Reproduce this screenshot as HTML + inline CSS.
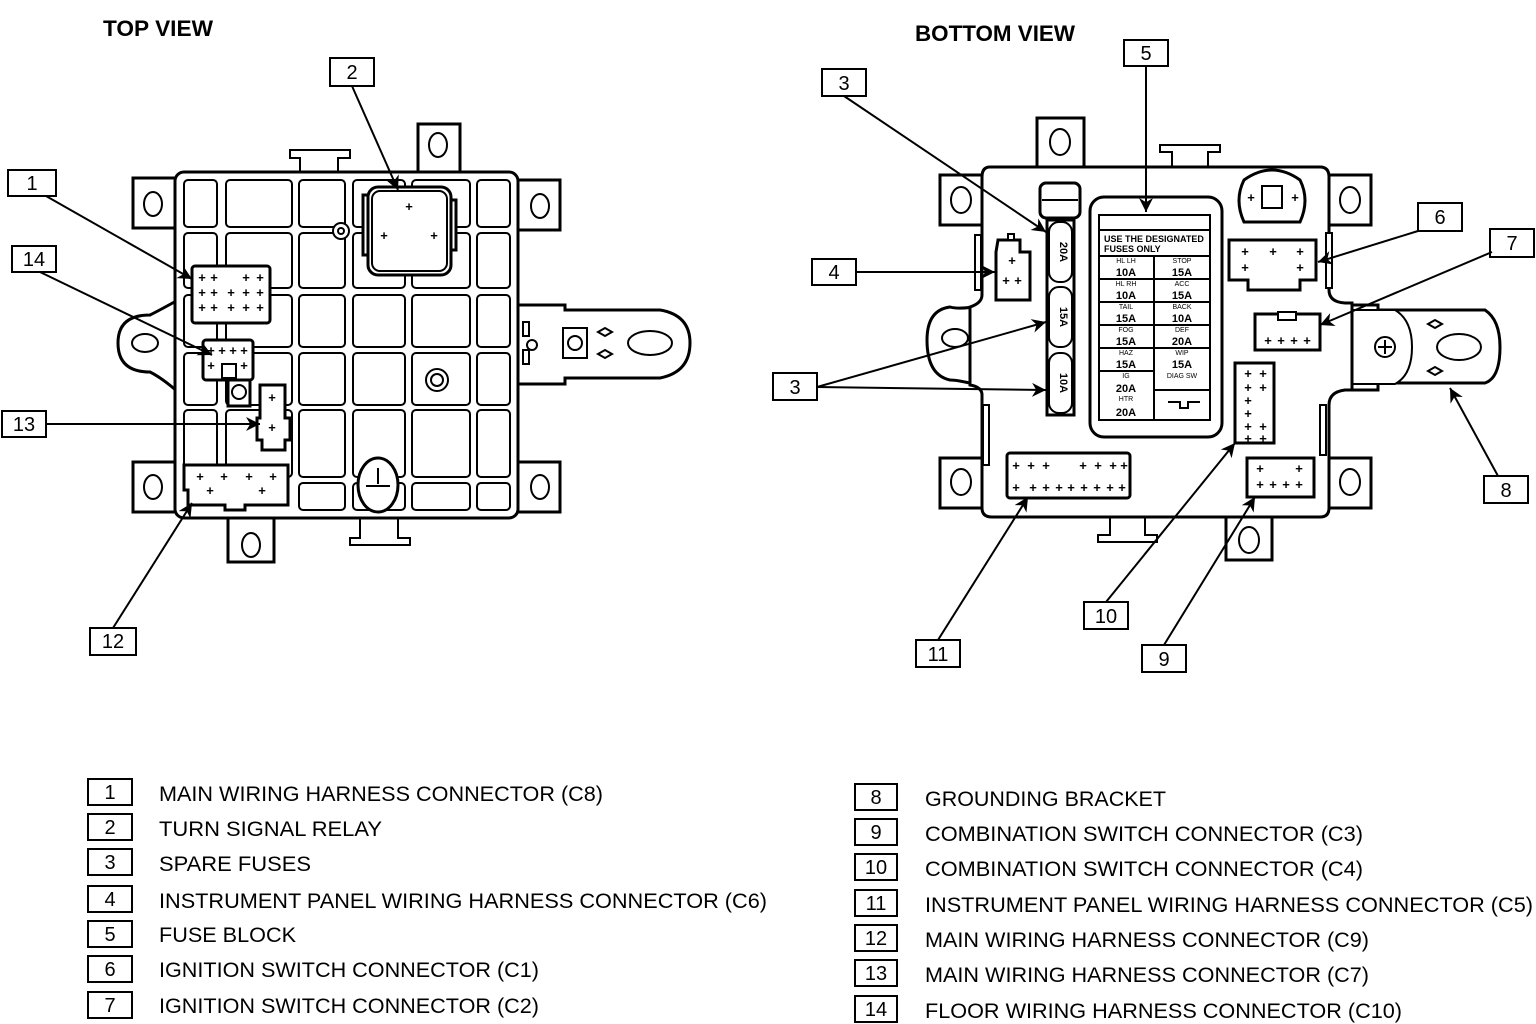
<!DOCTYPE html>
<html><head><meta charset="utf-8"><style>
html,body{margin:0;padding:0;background:#fff;}
svg{display:block;}
text{font-family:"Liberation Sans",sans-serif;fill:#000;}
.l{stroke:#000;stroke-width:3;fill:#fff;}
.t{stroke:#000;stroke-width:2;fill:#fff;}
.n{stroke:#000;stroke-width:2;fill:none;}
.c{stroke:#000;stroke-width:2;fill:#fff;}
.ld{stroke:#000;stroke-width:2;fill:none;}
.p{font-size:13px;font-weight:bold;text-anchor:middle;}
.bx{stroke:#000;stroke-width:2;fill:#fff;}
.bn{font-size:20px;text-anchor:middle;}
.lg{font-size:21px;}
</style></head><body>
<svg width="1536" height="1024" viewBox="0 0 1536 1024" xmlns="http://www.w3.org/2000/svg">
<defs>
<marker id="a" viewBox="0 0 10 10" refX="10" refY="5" markerWidth="9" markerHeight="7" markerUnits="userSpaceOnUse" orient="auto"><path d="M0,0L10,5L0,10z" fill="#000"/></marker>
<marker id="A" viewBox="0 0 10 10" refX="10" refY="5" markerWidth="26" markerHeight="14" markerUnits="userSpaceOnUse" orient="auto"><path d="M0,0L10,5L0,10L3,5z" fill="#000"/></marker>
</defs>

<!-- titles -->
<text x="103" y="36" font-size="22" font-weight="bold" textLength="110" lengthAdjust="spacingAndGlyphs">TOP VIEW</text>
<text x="915" y="41" font-size="22" font-weight="bold" textLength="160" lengthAdjust="spacingAndGlyphs">BOTTOM VIEW</text>

<!-- ================= TOP VIEW ================= -->
<g>
<!-- ears -->
<rect class="l" x="133" y="178" width="44" height="50"/><ellipse class="t" cx="153" cy="204" rx="9" ry="12"/>
<rect class="l" x="516" y="180" width="44" height="50"/><ellipse class="t" cx="540" cy="206" rx="9" ry="12"/>
<rect class="l" x="133" y="462" width="44" height="50"/><ellipse class="t" cx="153" cy="487" rx="9" ry="12"/>
<rect class="l" x="516" y="462" width="44" height="50"/><ellipse class="t" cx="540" cy="487" rx="9" ry="12"/>
<rect class="l" x="418" y="124" width="42" height="50"/><ellipse class="t" cx="438" cy="145" rx="9" ry="12"/>
<rect class="l" x="228" y="516" width="46" height="46"/><ellipse class="t" cx="251" cy="545" rx="9" ry="12"/>
<!-- clips -->
<path class="t" d="M300,172 V158 H290 V150 H350 V158 H338 V172"/>
<path class="t" d="M360,518 V538 H350 V545 H410 V538 H398 V518"/>
<!-- right bracket -->
<path class="l" d="M515,305 H565 V310 H660 Q690,315 690,343 Q690,372 660,378 H565 V384 H515 Z"/>
<rect class="t" x="563" y="328" width="24" height="30"/><circle class="t" cx="575" cy="343" r="7"/>
<ellipse class="t" cx="650" cy="343" rx="22" ry="12"/>
<path class="n" d="M598,332 l7,-4 l7,4 l-7,4z M598,354 l7,-4 l7,4 l-7,4z"/>
<rect class="t" x="523" y="322" width="6" height="14"/><rect class="t" x="523" y="350" width="6" height="14"/>
<circle class="t" cx="532" cy="345" r="5"/>
<!-- left lobe -->
<path class="l" d="M178,300 Q160,310 150,315 Q118,315 118,343 Q118,372 150,372 Q162,378 178,392 Z"/>
<ellipse class="t" cx="145" cy="343" rx="13" ry="9"/>
<!-- body -->
<rect class="l" x="175" y="172" width="343" height="346" rx="9"/>
<!-- grid cells -->
<g class="c" fill="#fff">
<rect class="c" x="184" y="180" width="33" height="47" rx="4"/><rect class="c" x="226" y="180" width="66" height="47" rx="4"/><rect class="c" x="299" y="180" width="46" height="47" rx="4"/><rect class="c" x="353" y="180" width="52" height="47" rx="4"/><rect class="c" x="412" y="180" width="58" height="47" rx="4"/><rect class="c" x="477" y="180" width="33" height="47" rx="4"/>
<rect class="c" x="184" y="233" width="33" height="55" rx="4"/><rect class="c" x="226" y="233" width="66" height="55" rx="4"/><rect class="c" x="299" y="233" width="46" height="55" rx="4"/><rect class="c" x="353" y="233" width="52" height="55" rx="4"/><rect class="c" x="412" y="233" width="58" height="55" rx="4"/><rect class="c" x="477" y="233" width="33" height="55" rx="4"/>
<rect class="c" x="184" y="295" width="33" height="52" rx="4"/><rect class="c" x="226" y="295" width="66" height="52" rx="4"/><rect class="c" x="299" y="295" width="46" height="52" rx="4"/><rect class="c" x="353" y="295" width="52" height="52" rx="4"/><rect class="c" x="412" y="295" width="58" height="52" rx="4"/><rect class="c" x="477" y="295" width="33" height="52" rx="4"/>
<rect class="c" x="184" y="353" width="33" height="52" rx="4"/><rect class="c" x="226" y="353" width="66" height="52" rx="4"/><rect class="c" x="299" y="353" width="46" height="52" rx="4"/><rect class="c" x="353" y="353" width="52" height="52" rx="4"/><rect class="c" x="412" y="353" width="58" height="52" rx="4"/><rect class="c" x="477" y="353" width="33" height="52" rx="4"/>
<rect class="c" x="184" y="410" width="33" height="67" rx="4"/><rect class="c" x="226" y="410" width="66" height="67" rx="4"/><rect class="c" x="299" y="410" width="46" height="67" rx="4"/><rect class="c" x="353" y="410" width="52" height="67" rx="4"/><rect class="c" x="412" y="410" width="58" height="67" rx="4"/><rect class="c" x="477" y="410" width="33" height="67" rx="4"/>
<rect class="c" x="299" y="483" width="46" height="27" rx="4"/><rect class="c" x="353" y="483" width="52" height="27" rx="4"/><rect class="c" x="412" y="483" width="58" height="27" rx="4"/><rect class="c" x="477" y="483" width="33" height="27" rx="4"/>
</g>
<!-- relay -->
<rect class="l" x="363" y="195" width="8" height="60"/><rect class="l" x="448" y="200" width="8" height="50"/>
<rect class="l" x="368" y="187" width="83" height="88" rx="10"/>
<rect class="n" x="372" y="191" width="75" height="80" rx="8"/>
<text class="p" x="409" y="211">+</text><text class="p" x="384" y="240">+</text><text class="p" x="434" y="240">+</text>
<circle class="t" cx="341" cy="231" r="8"/><circle class="n" cx="341" cy="231" r="3"/>
<!-- connector 1 -->
<rect class="l" x="192" y="266" width="78" height="57" rx="3"/>
<text class="p" x="202" y="282">+</text><text class="p" x="214" y="282">+</text><text class="p" x="246" y="282">+</text><text class="p" x="260" y="282">+</text>
<text class="p" x="202" y="297">+</text><text class="p" x="214" y="297">+</text><text class="p" x="231" y="297">+</text><text class="p" x="246" y="297">+</text><text class="p" x="260" y="297">+</text>
<text class="p" x="202" y="312">+</text><text class="p" x="214" y="312">+</text><text class="p" x="231" y="312">+</text><text class="p" x="246" y="312">+</text><text class="p" x="260" y="312">+</text>
<!-- connector 14 -->
<rect class="l" x="203" y="340" width="50" height="40" rx="3"/>
<text class="p" x="211" y="355">+</text><text class="p" x="222" y="355">+</text><text class="p" x="233" y="355">+</text><text class="p" x="244" y="355">+</text>
<text class="p" x="211" y="370">+</text><text class="p" x="244" y="370">+</text>
<rect class="t" x="222" y="364" width="14" height="14"/>
<rect class="l" x="228" y="380" width="22" height="26"/><circle class="t" cx="239" cy="392" r="7"/>
<!-- connector 13 -->
<path class="l" d="M260,385 H285 V418 H290 V440 H285 V450 H262 V440 H257 V418 H260 Z"/>
<text class="p" x="272" y="402">+</text><text class="p" x="272" y="432">+</text>
<!-- center circle -->
<circle class="t" cx="437" cy="380" r="11"/><circle class="n" cx="437" cy="380" r="6"/>
<!-- connector 12 -->
<path class="l" d="M184,465 H288 V505 H245 V510 H225 V505 H188 V490 H184 Z"/>
<text class="p" x="200" y="481">+</text><text class="p" x="224" y="481">+</text><text class="p" x="249" y="481">+</text><text class="p" x="273" y="481">+</text>
<text class="p" x="210" y="495">+</text><text class="p" x="262" y="495">+</text>
<!-- bottom round -->
<ellipse class="l" cx="378" cy="485" rx="20" ry="27"/>
<path class="n" d="M378,468 V484 M366,486 H390"/>
</g>

<!-- top view labels -->
<rect class="bx" x="8" y="170" width="48" height="26"/><text class="bn" x="32" y="190">1</text>
<rect class="bx" x="12" y="246" width="44" height="26"/><text class="bn" x="34" y="266">14</text>
<rect class="bx" x="2" y="411" width="44" height="26"/><text class="bn" x="24" y="431">13</text>
<rect class="bx" x="90" y="628" width="46" height="27"/><text class="bn" x="113" y="648">12</text>
<rect class="bx" x="330" y="58" width="44" height="28"/><text class="bn" x="352" y="79">2</text>
<g class="ld">
<line x1="46" y1="196" x2="192" y2="279" marker-end="url(#A)"/>
<line x1="40" y1="272" x2="212" y2="355" marker-end="url(#A)"/>
<line x1="46" y1="424" x2="260" y2="424" marker-end="url(#A)"/>
<line x1="113" y1="628" x2="192" y2="503" marker-end="url(#A)"/>
<line x1="352" y1="86" x2="398" y2="190" marker-end="url(#A)"/>
</g>

<!-- ================= BOTTOM VIEW ================= -->
<g>
<!-- ears -->
<rect class="l" x="940" y="175" width="44" height="50"/><ellipse class="t" cx="961" cy="200" rx="10" ry="13"/>
<rect class="l" x="1327" y="175" width="44" height="50"/><ellipse class="t" cx="1350" cy="200" rx="10" ry="13"/>
<rect class="l" x="940" y="458" width="44" height="50"/><ellipse class="t" cx="961" cy="482" rx="10" ry="13"/>
<rect class="l" x="1327" y="458" width="44" height="50"/><ellipse class="t" cx="1350" cy="482" rx="10" ry="13"/>
<rect class="l" x="1037" y="118" width="47" height="52"/><ellipse class="t" cx="1060" cy="142" rx="10" ry="13"/>
<rect class="l" x="1226" y="500" width="46" height="60"/><ellipse class="t" cx="1249" cy="540" rx="10" ry="13"/>
<!-- clips -->
<path class="t" d="M1172,167 V152 H1160 V145 H1220 V152 H1208 V167"/>
<path class="t" d="M1110,517 V535 H1098 V542 H1157 V535 H1145 V517"/>
<!-- left lobe -->
<path class="l" d="M985,305 Q960,310 950,307 Q927,310 927,340 Q927,375 950,380 Q960,380 985,387 Z"/>
<ellipse class="t" cx="955" cy="338" rx="13" ry="9"/>
<!-- right bracket -->
<path class="l" d="M1325,305 H1378 V310 H1485 Q1500,320 1500,347 Q1500,378 1485,383 H1378 V390 H1325 Z"/>
<path class="t" d="M1352,310 H1395 Q1412,320 1412,347 Q1412,375 1395,384 H1352 Z"/>
<circle class="t" cx="1385" cy="347" r="10"/><path class="n" d="M1385,340 V354 M1378,347 H1392"/>
<ellipse class="t" cx="1459" cy="347" rx="22" ry="13"/>
<path class="n" d="M1428,324 l7,-4 l7,4 l-7,4z M1428,371 l7,-4 l7,4 l-7,4z"/>
<!-- body -->
<path class="l" d="M990,167 H1320 Q1329,167 1329,177 V290 Q1329,302 1345,303 H1352 V390 H1345 Q1329,392 1329,405 V508 Q1329,517 1320,517 H992 Q982,517 982,508 V395 Q982,387 970,385 V307 Q982,303 982,295 V177 Q982,167 990,167 Z"/>
<rect class="t" x="975" y="235" width="6" height="55"/><rect class="t" x="1326" y="233" width="6" height="55"/>
<rect class="t" x="983" y="405" width="6" height="60"/><rect class="t" x="1320" y="405" width="6" height="50"/>
<!-- top fuse -->
<rect class="l" x="1040" y="183" width="40" height="35" rx="6"/><line class="n" x1="1042" y1="200" x2="1078" y2="200"/>
<!-- spare fuses -->
<rect class="l" x="1047" y="220" width="27" height="195"/>
<rect class="t" x="1049" y="222" width="23" height="60" rx="10"/><text x="1060" y="252" font-size="11" font-weight="bold" text-anchor="middle" transform="rotate(90 1060 252)">20A</text>
<rect class="t" x="1049" y="287" width="23" height="60" rx="10"/><text x="1060" y="317" font-size="11" font-weight="bold" text-anchor="middle" transform="rotate(90 1060 317)">15A</text>
<rect class="t" x="1049" y="353" width="23" height="60" rx="10"/><text x="1060" y="383" font-size="11" font-weight="bold" text-anchor="middle" transform="rotate(90 1060 383)">10A</text>
<!-- connector 4 -->
<path class="l" d="M998,240 H1020 V252 H1030 V300 H996 V252 Z"/>
<rect class="t" x="1008" y="234" width="6" height="6"/>
<text class="p" x="1012" y="265">+</text><text class="p" x="1006" y="285">+</text><text class="p" x="1018" y="285">+</text>
<!-- fuse block -->
<rect class="l" x="1090" y="197" width="132" height="240" rx="14"/>
<rect class="t" x="1099" y="215" width="111" height="205"/>
<line class="n" x1="1099" y1="230" x2="1210" y2="230"/>
<text x="1104" y="242" font-size="9" font-weight="bold">USE THE DESIGNATED</text>
<text x="1104" y="252" font-size="9" font-weight="bold">FUSES ONLY</text>
<g class="n"><line x1="1099" y1="256" x2="1210" y2="256"/><line x1="1099" y1="279" x2="1210" y2="279"/><line x1="1099" y1="302" x2="1210" y2="302"/><line x1="1099" y1="325" x2="1210" y2="325"/><line x1="1099" y1="348" x2="1210" y2="348"/><line x1="1099" y1="371" x2="1154" y2="371"/><line x1="1154" y1="390" x2="1210" y2="390"/><line x1="1154" y1="256" x2="1154" y2="420"/></g>
<g font-size="7" text-anchor="middle"><text x="1126" y="263">HL LH</text><text x="1182" y="263">STOP</text><text x="1126" y="286">HL RH</text><text x="1182" y="286">ACC</text><text x="1126" y="309">TAIL</text><text x="1182" y="309">BACK</text><text x="1126" y="332">FOG</text><text x="1182" y="332">DEF</text><text x="1126" y="355">HAZ</text><text x="1182" y="355">WIP</text><text x="1126" y="378">IG</text><text x="1182" y="378">DIAG SW</text><text x="1126" y="401">HTR</text></g>
<g font-size="11" font-weight="bold" text-anchor="middle"><text x="1126" y="276">10A</text><text x="1182" y="276">15A</text><text x="1126" y="299">10A</text><text x="1182" y="299">15A</text><text x="1126" y="322">15A</text><text x="1182" y="322">10A</text><text x="1126" y="345">15A</text><text x="1182" y="345">20A</text><text x="1126" y="368">15A</text><text x="1182" y="368">15A</text><text x="1126" y="392">20A</text><text x="1126" y="416">20A</text></g>
<path class="n" d="M1168,402 H1180 V408 H1188 V402 H1200"/>
<!-- top right round -->
<path class="l" d="M1244,180 Q1272,160 1300,180 Q1310,200 1300,222 H1244 Q1234,200 1244,180 Z"/>
<rect class="t" x="1262" y="186" width="20" height="22"/>
<text class="p" x="1251" y="202">+</text><text class="p" x="1295" y="202">+</text>
<!-- connector 6 -->
<path class="l" d="M1229,240 H1316 V280 H1300 V290 H1248 V280 H1229 Z"/>
<text class="p" x="1245" y="256">+</text><text class="p" x="1273" y="256">+</text><text class="p" x="1300" y="256">+</text><text class="p" x="1245" y="272">+</text><text class="p" x="1300" y="272">+</text>
<!-- connector 7 -->
<path class="l" d="M1255,314 H1320 V350 H1255 Z"/>
<rect class="t" x="1278" y="312" width="18" height="8"/>
<text class="p" x="1268" y="345">+</text><text class="p" x="1281" y="345">+</text><text class="p" x="1294" y="345">+</text><text class="p" x="1307" y="345">+</text>
<!-- connector 10 -->
<rect class="l" x="1235" y="363" width="39" height="80"/>
<text class="p" x="1248" y="378">+</text><text class="p" x="1263" y="378">+</text><text class="p" x="1248" y="392">+</text><text class="p" x="1263" y="392">+</text><text class="p" x="1248" y="405">+</text><text class="p" x="1248" y="418">+</text><text class="p" x="1248" y="431">+</text><text class="p" x="1263" y="431">+</text><text class="p" x="1248" y="443">+</text><text class="p" x="1263" y="443">+</text>
<!-- connector 11 -->
<rect class="l" x="1007" y="453" width="123" height="45" rx="3"/>
<text class="p" x="1016" y="470">+</text><text class="p" x="1031" y="470">+</text><text class="p" x="1046" y="470">+</text><text class="p" x="1083" y="470">+</text><text class="p" x="1098" y="470">+</text><text class="p" x="1113" y="470">+</text><text class="p" x="1124" y="470">+</text>
<text class="p" x="1016" y="492">+</text><text class="p" x="1033" y="492">+</text><text class="p" x="1046" y="492">+</text><text class="p" x="1059" y="492">+</text><text class="p" x="1071" y="492">+</text><text class="p" x="1084" y="492">+</text><text class="p" x="1097" y="492">+</text><text class="p" x="1110" y="492">+</text><text class="p" x="1122" y="492">+</text>
<!-- connector 9 -->
<rect class="l" x="1247" y="458" width="67" height="39"/>
<text class="p" x="1260" y="473">+</text><text class="p" x="1299" y="473">+</text><text class="p" x="1260" y="489">+</text><text class="p" x="1273" y="489">+</text><text class="p" x="1286" y="489">+</text><text class="p" x="1299" y="489">+</text>
</g>

<!-- bottom view labels -->
<rect class="bx" x="822" y="69" width="44" height="27"/><text class="bn" x="844" y="90">3</text>
<rect class="bx" x="1124" y="40" width="44" height="26"/><text class="bn" x="1146" y="60">5</text>
<rect class="bx" x="812" y="259" width="44" height="26"/><text class="bn" x="834" y="279">4</text>
<rect class="bx" x="773" y="373" width="44" height="27"/><text class="bn" x="795" y="394">3</text>
<rect class="bx" x="1418" y="203" width="44" height="28"/><text class="bn" x="1440" y="224">6</text>
<rect class="bx" x="1490" y="229" width="44" height="28"/><text class="bn" x="1512" y="250">7</text>
<rect class="bx" x="1484" y="476" width="44" height="27"/><text class="bn" x="1506" y="497">8</text>
<rect class="bx" x="916" y="640" width="44" height="27"/><text class="bn" x="938" y="661">11</text>
<rect class="bx" x="1084" y="602" width="44" height="27"/><text class="bn" x="1106" y="623">10</text>
<rect class="bx" x="1142" y="645" width="44" height="27"/><text class="bn" x="1164" y="666">9</text>
<g class="ld">
<line x1="844" y1="96" x2="1046" y2="232" marker-end="url(#A)"/>
<line x1="1146" y1="66" x2="1146" y2="212" marker-end="url(#A)"/>
<line x1="856" y1="272" x2="995" y2="272" marker-end="url(#A)"/>
<line x1="817" y1="387" x2="1046" y2="322" marker-end="url(#A)"/>
<line x1="817" y1="387" x2="1046" y2="390" marker-end="url(#A)"/>
<line x1="1418" y1="231" x2="1318" y2="262" marker-end="url(#A)"/>
<line x1="1492" y1="252" x2="1320" y2="325" marker-end="url(#A)"/>
<line x1="1498" y1="476" x2="1450" y2="388" marker-end="url(#A)"/>
<line x1="1106" y1="602" x2="1235" y2="443" marker-end="url(#A)"/>
<line x1="938" y1="640" x2="1028" y2="497" marker-end="url(#A)"/>
<line x1="1164" y1="645" x2="1255" y2="497" marker-end="url(#A)"/>
</g>

<!-- legend left -->
<g>
<rect class="bx" x="88" y="779" width="44" height="26"/><text class="bn" x="110" y="799">1</text>
<rect class="bx" x="88" y="814" width="44" height="26"/><text class="bn" x="110" y="834">2</text>
<rect class="bx" x="88" y="849" width="44" height="26"/><text class="bn" x="110" y="869">3</text>
<rect class="bx" x="88" y="886" width="44" height="26"/><text class="bn" x="110" y="906">4</text>
<rect class="bx" x="88" y="921" width="44" height="26"/><text class="bn" x="110" y="941">5</text>
<rect class="bx" x="88" y="956" width="44" height="26"/><text class="bn" x="110" y="976">6</text>
<rect class="bx" x="88" y="992" width="44" height="26"/><text class="bn" x="110" y="1012">7</text>
<text class="lg" x="159" y="801" textLength="444" lengthAdjust="spacingAndGlyphs">MAIN WIRING HARNESS CONNECTOR (C8)</text>
<text class="lg" x="159" y="836" textLength="223" lengthAdjust="spacingAndGlyphs">TURN SIGNAL RELAY</text>
<text class="lg" x="159" y="871" textLength="152" lengthAdjust="spacingAndGlyphs">SPARE FUSES</text>
<text class="lg" x="159" y="908" textLength="608" lengthAdjust="spacingAndGlyphs">INSTRUMENT PANEL WIRING HARNESS CONNECTOR (C6)</text>
<text class="lg" x="159" y="942" textLength="137" lengthAdjust="spacingAndGlyphs">FUSE BLOCK</text>
<text class="lg" x="159" y="977" textLength="380" lengthAdjust="spacingAndGlyphs">IGNITION SWITCH CONNECTOR (C1)</text>
<text class="lg" x="159" y="1013" textLength="380" lengthAdjust="spacingAndGlyphs">IGNITION SWITCH CONNECTOR (C2)</text>
</g>
<!-- legend right -->
<g>
<rect class="bx" x="855" y="784" width="42" height="26"/><text class="bn" x="876" y="804">8</text>
<rect class="bx" x="855" y="819" width="42" height="26"/><text class="bn" x="876" y="839">9</text>
<rect class="bx" x="855" y="854" width="42" height="26"/><text class="bn" x="876" y="874">10</text>
<rect class="bx" x="855" y="890" width="42" height="26"/><text class="bn" x="876" y="910">11</text>
<rect class="bx" x="855" y="925" width="42" height="26"/><text class="bn" x="876" y="945">12</text>
<rect class="bx" x="855" y="960" width="42" height="26"/><text class="bn" x="876" y="980">13</text>
<rect class="bx" x="855" y="996" width="42" height="26"/><text class="bn" x="876" y="1016">14</text>
<text class="lg" x="925" y="806" textLength="241" lengthAdjust="spacingAndGlyphs">GROUNDING BRACKET</text>
<text class="lg" x="925" y="841" textLength="438" lengthAdjust="spacingAndGlyphs">COMBINATION SWITCH CONNECTOR (C3)</text>
<text class="lg" x="925" y="876" textLength="438" lengthAdjust="spacingAndGlyphs">COMBINATION SWITCH CONNECTOR (C4)</text>
<text class="lg" x="925" y="912" textLength="608" lengthAdjust="spacingAndGlyphs">INSTRUMENT PANEL WIRING HARNESS CONNECTOR (C5)</text>
<text class="lg" x="925" y="947" textLength="444" lengthAdjust="spacingAndGlyphs">MAIN WIRING HARNESS CONNECTOR (C9)</text>
<text class="lg" x="925" y="982" textLength="444" lengthAdjust="spacingAndGlyphs">MAIN WIRING HARNESS CONNECTOR (C7)</text>
<text class="lg" x="925" y="1018" textLength="477" lengthAdjust="spacingAndGlyphs">FLOOR WIRING HARNESS CONNECTOR (C10)</text>
</g>
</svg>
</body></html>
